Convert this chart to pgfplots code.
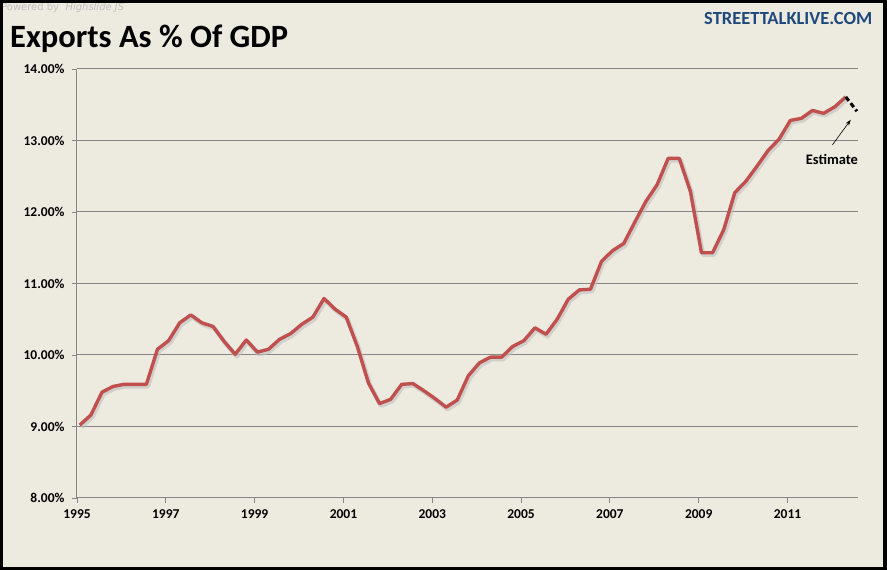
\documentclass[border=0pt]{standalone}
\usepackage{pgfplots}
\pgfplotsset{compat=1.18}
\usepackage{fontspec}
\setmainfont{Carlito}
\newfontfamily\dejavu{DejaVu Sans}
\usetikzlibrary{arrows.meta}
\definecolor{bg}{RGB}{237,234,224}
\definecolor{excelred}{RGB}{192,80,77}
\definecolor{gridgray}{RGB}{134,134,134}
\definecolor{stlblue}{RGB}{31,73,125}

\pgfplotstableread{
idx val
0 9.02
1 9.16
2 9.48
3 9.56
4 9.59
5 9.59
6 9.59
7 10.08
8 10.20
9 10.45
10 10.56
11 10.45
12 10.40
13 10.19
14 10.01
15 10.21
16 10.04
17 10.08
18 10.22
19 10.30
20 10.43
21 10.53
22 10.79
23 10.64
24 10.53
25 10.12
26 9.61
27 9.32
28 9.38
29 9.59
30 9.60
31 9.50
32 9.39
33 9.27
34 9.37
35 9.71
36 9.89
37 9.97
38 9.97
39 10.12
40 10.20
41 10.38
42 10.29
43 10.50
44 10.78
45 10.91
46 10.92
47 11.31
48 11.46
49 11.56
50 11.86
51 12.15
52 12.38
53 12.75
54 12.75
55 12.29
56 11.43
57 11.43
58 11.75
59 12.27
60 12.43
61 12.64
62 12.86
63 13.02
64 13.28
65 13.31
66 13.42
67 13.38
68 13.47
69 13.61
}\exports

\begin{document}
\begin{tikzpicture}[x=1pt,y=1pt]
\fill[bg] (0,0) rectangle (887,570);
\node[anchor=base west, text=gray!50, font=\dejavu\fontsize{10}{10}\selectfont, inner sep=0] at (1,559) {Powered by\ \ \textit{Highslide JS}};
\node[anchor=base west, inner sep=0, text=black, font=\fontsize{32.5}{34}\selectfont\bfseries] at (10,522) {Exports As \% Of GDP};
\node[anchor=base east, inner sep=0, text=stlblue, font=\fontsize{18.5}{19}\selectfont\bfseries] at (872.5,545.5) {STREETTALKLIVE.COM};

\begin{axis}[
  at={(77pt,72pt)}, anchor=south west,
  scale only axis, width=781pt, height=429pt,
  xmin=-0.25, xmax=70.1, ymin=8, ymax=14,
  axis x line*=bottom, axis y line*=left,
  axis line style={draw=gridgray, line width=1pt, -},
  xtick={-0.25,7.75,15.75,23.75,31.75,39.75,47.75,55.75,63.75},
  xticklabels={1995,1997,1999,2001,2003,2005,2007,2009,2011},
  ytick={8,9,10,11,12,13,14},
  yticklabel={\pgfmathprintnumber[fixed,fixed zerofill,precision=2]{\tick}\%},
  /pgf/number format/assume math mode=true,
  tick align=outside, major tick length=5pt,
  tick style={draw=gridgray, line width=0.8pt},
  ticklabel style={font=\fontsize{13.5}{13.5}\selectfont\bfseries},
  yticklabel style={xshift=-4pt},
  xticklabel style={yshift=-3pt},
  ymajorgrids, grid style={draw=gridgray, line width=1pt},
  clip=false,
]
\addplot[black!25, opacity=0.6, line width=4.5pt, line join=round, xshift=1.5pt, yshift=-2pt] table[x=idx,y=val] {\exports};
\addplot[excelred, line width=3.4pt, line join=round] table[x=idx,y=val] {\exports};
\addplot[black, line width=3pt, dash pattern=on 5pt off 3pt] coordinates {(69,13.61) (70,13.41)};
\draw[-{Stealth[length=6pt,width=4pt]}, line width=0.6pt] (axis cs:67.8,12.94) -- (axis cs:69.45,13.29);
\node[font=\fontsize{14.5}{14.5}\selectfont\bfseries, inner sep=0] at (axis cs:67.75,12.73) {Estimate};
\end{axis}
% border
\fill[black] (0,0) rectangle (3,570);
\fill[black] (0,567) rectangle (887,570);
\fill[black] (883,0) rectangle (887,570);
\fill[black] (0,0) rectangle (887,3);
\end{tikzpicture}
\end{document}
